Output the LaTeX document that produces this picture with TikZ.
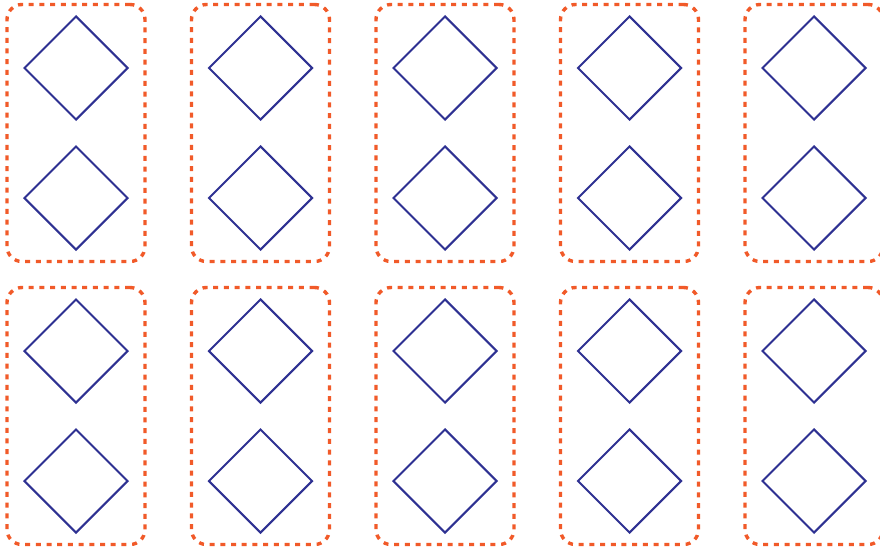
\documentclass[tikz,border=0pt]{standalone}
\usepackage{xcolor}
\usepackage{tikz}
\usetikzlibrary{shapes.geometric, positioning, fit, backgrounds}
\definecolor{gemblue}{HTML}{2E3192}
\definecolor{frameorange}{HTML}{F15A29}

\begin{document}
\begin{tikzpicture}[
    x=1pt, y=-1pt,
    node distance=24pt,
    gem/.style={diamond, draw=gemblue, line width=2pt, minimum width=104pt, minimum height=104pt, inner sep=0pt},
    frame/.style={rectangle, draw=frameorange, line width=3.4pt, dash pattern=on 5pt off 5.7pt, rounded corners=15pt, inner xsep=16pt, inner ysep=10.5pt}
]
\useasboundingbox (0,0) rectangle (880,551);

% Grid of framed diamond pairs
\foreach \col in {0,...,4} {
  \foreach \row in {0,1} {
    % Diamond pair
    \node[gem] (top-\col-\row) at (76+184.5*\col, 68+283*\row) {};
    \node[gem, below=of top-\col-\row] (bot-\col-\row) {};

    % Dotted frame
    \begin{scope}[on background layer]
        \node[frame, fit=(top-\col-\row)(bot-\col-\row)] (frame-\col-\row) {};
    \end{scope}
  }
}
\end{tikzpicture}
\end{document}
